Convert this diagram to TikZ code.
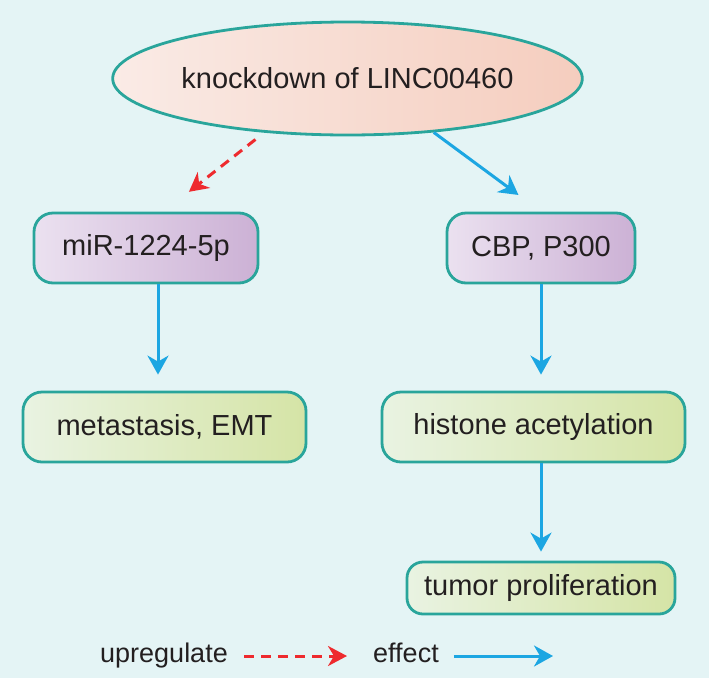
\documentclass[tikz,border=0pt]{standalone}
\usepackage{fontspec}
\setmainfont{Liberation Sans}
\usetikzlibrary{shapes.geometric,arrows.meta}
\definecolor{bgcol}{HTML}{E4F4F5}
\definecolor{rim}{HTML}{29A59B}
\definecolor{ink}{HTML}{231F20}
\definecolor{effblue}{HTML}{1CA6E2}
\definecolor{upred}{HTML}{EE2A2E}
\definecolor{peachL}{HTML}{FAEBE6}
\definecolor{peachR}{HTML}{F5CDBE}
\definecolor{lilacL}{HTML}{EBE1F0}
\definecolor{lilacR}{HTML}{CCB1D5}
\definecolor{limeL}{HTML}{E9F3E2}
\definecolor{limeR}{HTML}{D5E4A6}

\begin{document}
\begin{tikzpicture}[x=1pt,y=-1pt,every node/.style={text=ink,font=\fontsize{29}{34}\selectfont},box/.style={draw=rim,line width=2.8pt,rounded corners=19pt,inner sep=0pt,minimum height=70pt},mirbox/.style={box,left color=lilacL,right color=lilacR},endbox/.style={box,left color=limeL,right color=limeR},effect/.style={draw=effblue,line width=3pt,-{Stealth[length=19pt,width=21pt,inset=6pt]}},upreg/.style={draw=upred,line width=3pt,dash pattern=on 10pt off 7pt,-{Stealth[length=19pt,width=20pt,inset=6pt]}},legtext/.style={inner sep=0pt,anchor=base west,font=\fontsize{27}{32}\selectfont}]
\fill[bgcol] (0,0) rectangle (709,678);
\node[ellipse,draw=rim,line width=2.8pt,inner sep=0pt,minimum width=461pt,minimum height=113pt,left color=peachL,right color=peachR] (root) at (347.5,78.5) {knockdown of LINC00460};
\node[mirbox,minimum width=224pt] (mir) at (146,248) {miR-1224-5p};
\node[mirbox,minimum width=188pt] (cbp) at (541,248) {CBP, P300};
\node[endbox,minimum width=283pt] (meta) at (164.5,427) {metastasis, EMT};
\node[endbox,minimum width=303pt] (hist) at (533.5,427) {histone acetylation};
\node[endbox,minimum width=268pt,minimum height=52pt,rounded corners=16pt] (tumor) at (541,588) {tumor proliferation};
\draw[upreg,shorten <=11pt,shorten >=32pt] (root.213) -- (mir.64);
\draw[effect,shorten >=28pt] (root.328) -- (cbp.north);
\draw[effect,shorten >=16pt] ([xshift=12pt]mir.south) -- ([xshift=12pt]mir.south |- meta.north);
\draw[effect,shorten >=16pt] (cbp.south) -- (cbp.south |- hist.north);
\draw[effect,shorten >=9pt] (hist.south -| tumor.north) -- (tumor.north);
\node[legtext] (legup) at (100,662) {upregulate};
\coordinate (legupend) at (347,656);
\draw[upreg] ([xshift=16pt]legup.east |- legupend) -- (legupend);
\node[legtext] (legeff) at (373,662) {effect};
\coordinate (legeffend) at (553,656);
\draw[effect] ([xshift=15pt]legeff.east |- legeffend) -- (legeffend);
\end{tikzpicture}
\end{document}
